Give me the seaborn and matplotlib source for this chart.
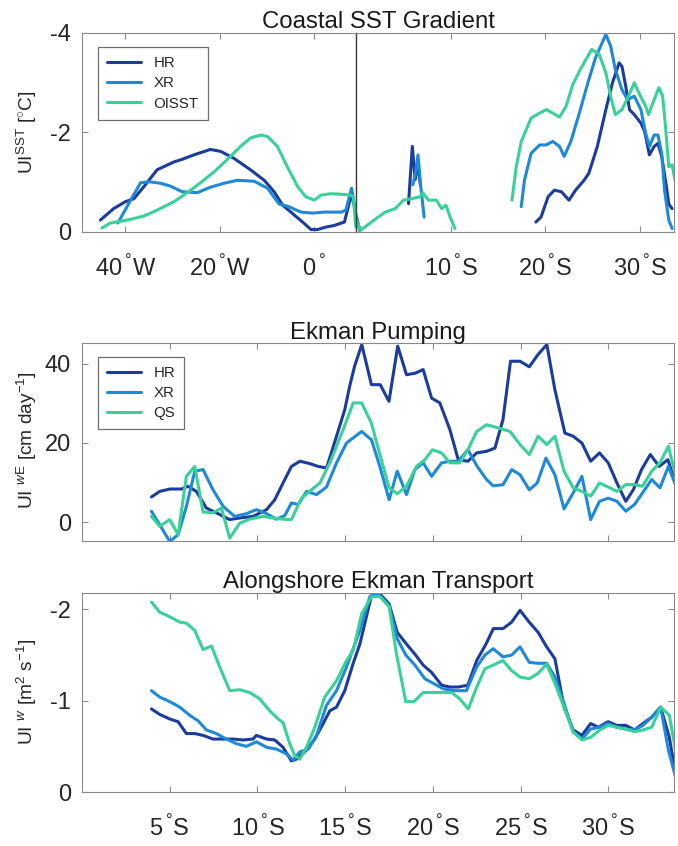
import numpy as np
import pandas as pd
import seaborn as sns
import matplotlib.pyplot as plt

# ---- colours ----
HR_COLOR = "#1b3c9e"
XR_COLOR = "#1d89d8"
GREEN = "#38d198"
BOX = "#8a8a8a"
TXT = "#262626"

# ---- Coastal SST gradient, west-east part (longitude, deg E) ----
sst_lon_hr = [-45.3, -42.5, -40.0, -38.2, -36.1, -33.3, -29.7, -28.0, -25.5, -22.0, -19.8, -17.0, -13.5,
              -10.6, -8.5, -6.7, -4.2, -2.1, -0.7, 0.7, 2.5, 4.2, 6.4, 7.9, 8.6, 9.0]
sst_hr_we = [-0.24, -0.47, -0.61, -0.67, -0.91, -1.25, -1.41, -1.46, -1.55, -1.66, -1.62, -1.48, -1.25,
             -1.04, -0.81, -0.54, -0.34, -0.17, -0.05, -0.05, -0.10, -0.13, -0.20, -0.77, -0.47, -0.25]
sst_lon_xr = [-41.6, -38.9, -36.8, -35.0, -32.6, -30.4, -28.0, -24.8, -22.0, -19.1, -16.3, -12.7, -9.9,
              -7.4, -5.7, -2.8, -0.4, 2.1, 5.7, 6.7, 7.9, 8.8]
sst_xr_we = [-0.18, -0.64, -0.99, -1.01, -0.98, -0.92, -0.81, -0.79, -0.90, -0.98, -1.04, -1.02, -0.88,
             -0.56, -0.52, -0.40, -0.38, -0.40, -0.40, -0.44, -0.88, -0.37]
sst_lon_oi = [-45.0, -43.2, -39.6, -36.1, -33.3, -29.7, -26.9, -24.1, -21.2, -18.4, -15.6, -13.5, -11.3,
              -9.9, -7.8, -5.7, -3.5, -1.8, 0.0, 1.4, 3.5, 5.7, 7.8, 8.3, 8.8]
sst_oi_we = [-0.08, -0.18, -0.24, -0.32, -0.44, -0.61, -0.79, -0.99, -1.21, -1.46, -1.72, -1.89, -1.95,
             -1.92, -1.72, -1.31, -0.91, -0.71, -0.64, -0.74, -0.77, -0.76, -0.74, -0.70, -0.10]

# ---- Coastal SST gradient, north-south part (latitude, deg S) ----
sst_lat_hr_a = [0.0, 0.4]
sst_hr_a = [-0.30, -0.03]
sst_lat_hr_b = [5.55, 5.95, 6.25, 6.5, 6.8]
sst_hr_b = [-0.57, -1.72, -1.05, -1.40, -0.95]
sst_lat_hr_c = [19.0, 19.55, 20.3, 20.96, 21.7, 22.5, 23.2, 24.1, 24.6, 25.5, 26.4, 27.1, 27.8, 28.1, 28.5,
                28.9, 29.4, 30.1, 30.5, 31.0, 31.5, 31.9, 32.3, 32.8, 33.05, 33.4]
sst_hr_c = [-0.20, -0.30, -0.71, -0.84, -0.81, -0.64, -0.84, -1.04, -1.18, -1.72, -2.46, -3.00, -3.40, -3.33,
            -2.93, -2.46, -2.36, -2.19, -2.02, -1.55, -1.72, -1.78, -1.52, -0.91, -0.56, -0.47]
sst_lat_xr_a = [0.0, 0.4]
sst_xr_a = [-0.35, -0.04]
sst_lat_xr_b = [6.0, 6.3, 6.55, 6.85, 7.2]
sst_xr_b = [-0.95, -1.20, -1.55, -0.90, -0.30]
sst_lat_xr_c = [17.46, 17.8, 18.5, 19.4, 20.1, 20.8, 21.5, 22.0, 22.7, 23.6, 24.5, 25.3, 26.4, 26.9, 27.4,
                28.1, 28.7, 29.4, 30.1, 30.6, 31.0, 31.5, 31.9, 32.3, 32.6, 33.05, 33.4]
sst_xr_c = [-0.51, -1.04, -1.58, -1.75, -1.75, -1.82, -1.72, -1.52, -1.82, -2.39, -3.00, -3.50, -3.97, -3.74,
            -3.27, -2.86, -2.66, -2.73, -2.46, -1.99, -1.72, -1.95, -1.95, -1.58, -0.84, -0.24, -0.07]
sst_lat_oi_a = [0.0, 0.45, 1.9, 3.1, 4.15, 5.0, 5.9, 6.8, 7.05, 7.65, 8.5, 9.05, 9.5, 9.95, 10.45]
sst_oi_a = [-0.25, -0.03, -0.24, -0.40, -0.47, -0.64, -0.67, -0.71, -0.79, -0.64, -0.64, -0.47, -0.54,
            -0.30, -0.07]
sst_lat_oi_b = [16.48, 16.93, 17.46, 18.5, 19.4, 20.1, 20.8, 21.5, 22.2, 22.9, 23.6, 24.3, 24.9, 25.7, 26.4,
                26.9, 27.4, 28.1, 28.8, 29.4, 29.9, 30.6, 30.9, 31.5, 32.0, 32.4, 32.7, 33.05, 33.4, 33.7]
sst_oi_b = [-0.64, -1.31, -1.82, -2.29, -2.39, -2.46, -2.39, -2.31, -2.53, -2.96, -3.23, -3.47, -3.67, -3.57,
            -3.20, -2.73, -2.36, -2.46, -2.73, -3.00, -2.79, -2.53, -2.36, -2.66, -2.90, -2.73, -2.12, -1.31,
            -1.35, -1.04]

# ---- Ekman pumping [cm/day] ----
ek_lat_hr = [3.96, 4.43, 5.0, 5.67, 6.04, 6.52, 7.09, 7.66, 8.42, 8.99, 9.75, 10.52, 10.99, 11.46, 11.94,
             12.42, 12.99, 13.46, 13.94, 14.51, 14.98, 15.27, 15.55, 15.95, 16.5, 17.0, 17.5, 18.0, 18.5, 19.0,
             19.45, 19.93, 20.4, 20.97, 21.45, 22.0, 22.5, 23.06, 23.54, 24.0, 24.43, 24.97, 25.5, 26.0, 26.5,
             26.96, 27.53, 28.0, 28.5, 29.0, 29.5, 30.0, 30.5, 31.0, 31.43, 31.9, 32.4, 32.9, 33.4, 33.9]
ek_hr = [6.4, 7.8, 8.4, 8.4, 9.1, 7.8, 3.6, 2.4, 0.7, 1.1, 1.5, 3.2, 5.7, 9.9, 14.1, 15.4, 14.8, 14.1, 13.7,
         21.7, 28.4, 34.5, 39.5, 44.8, 34.7, 34.7, 30.5, 44.4, 37.2, 37.6, 38.5, 31.3, 30.1, 23.4, 15.8, 15.4,
         17.5, 17.9, 18.7, 25.9, 40.6, 40.6, 39.2, 42.3, 44.8, 33.4, 22.5, 21.7, 20.0, 15.4, 17.5, 15.0, 9.9,
         5.3, 8.2, 13.3, 17.1, 14.1, 15.8, 9.1]
ek_lat_xr = [3.96, 4.43, 5.0, 5.48, 5.95, 6.43, 6.9, 7.47, 8.05, 8.71, 9.38, 9.95, 10.52, 11.08, 11.56, 11.94,
             12.32, 12.8, 13.37, 13.94, 14.51, 15.08, 15.94, 16.5, 16.98, 17.51, 17.97, 18.5, 18.98, 19.45,
             19.93, 20.5, 20.97, 21.45, 22.0, 22.53, 23.06, 23.44, 24.0, 24.5, 24.97, 25.5, 25.95, 26.45, 26.96,
             27.48, 28.0, 28.5, 29.0, 29.5, 30.0, 30.5, 31.0, 31.5, 31.95, 32.48, 32.95, 33.43, 33.94]
ek_xr = [2.8, -0.6, -4.8, -3.1, 4.0, 12.9, 13.3, 8.2, 4.0, 1.5, 2.2, 3.2, 2.2, 0.8, 1.7, 4.9, 4.5, 7.8, 7.0,
         8.9, 15.0, 20.0, 22.9, 20.8, 14.1, 5.7, 12.9, 7.0, 13.3, 15.0, 11.6, 15.0, 15.4, 15.4, 18.3, 14.1,
         10.8, 9.2, 9.5, 13.3, 12.0, 8.2, 9.9, 16.2, 12.0, 3.4, 7.4, 11.6, 0.7, 5.3, 6.1, 5.3, 2.8, 4.5, 7.4,
         10.8, 8.7, 14.1, 8.2]
ek_lat_qs = [3.96, 4.43, 5.0, 5.48, 5.95, 6.43, 6.9, 7.47, 7.95, 8.42, 8.99, 9.56, 10.32, 10.89, 11.46, 11.94,
             12.51, 13.08, 13.56, 14.13, 14.89, 15.46, 15.94, 16.5, 16.98, 17.51, 17.97, 18.5, 19.07, 19.55,
             19.98, 20.5, 20.97, 21.54, 22.0, 22.5, 23.06, 23.73, 24.4, 24.97, 25.5, 26.0, 26.5, 26.96, 27.48,
             28.0, 28.5, 29.0, 29.5, 30.0, 30.5, 31.0, 31.5, 31.95, 32.48, 32.95, 33.43, 33.94]
ek_qs = [1.5, -1.0, 0.7, -3.1, 11.6, 14.1, 2.6, 2.4, 3.6, -4.0, -0.2, 0.8, 1.5, 1.1, 0.8, 0.7, 6.1, 8.2, 9.9,
         15.0, 23.4, 30.1, 30.1, 25.0, 17.1, 8.7, 7.2, 9.1, 14.1, 15.8, 18.3, 17.5, 15.0, 15.0, 18.3, 22.9,
         24.6, 23.8, 22.9, 19.6, 17.1, 21.7, 19.6, 21.7, 12.9, 8.7, 7.8, 6.6, 9.9, 8.9, 7.8, 9.5, 9.5, 9.1,
         12.9, 15.0, 19.2, 9.9]

# ---- Alongshore Ekman transport [m2/s] ----
tr_lat_hr = [3.96, 4.43, 5.0, 5.48, 5.95, 6.43, 6.9, 7.47, 8.05, 8.62, 9.18, 9.75, 9.94, 10.52, 10.99, 11.46,
             11.94, 12.23, 12.8, 13.27, 13.75, 14.13, 14.51, 14.98, 15.46, 15.84, 16.5, 16.98, 17.51, 17.97,
             18.5, 18.98, 19.45, 19.93, 20.5, 20.97, 21.45, 22.0, 22.5, 23.03, 23.45, 24.0, 24.49, 24.97, 25.5,
             26.0, 26.49, 26.96, 27.48, 28.0, 28.5, 29.0, 29.43, 30.0, 30.48, 31.0, 31.5, 31.98, 32.48, 32.99,
             33.48, 33.94]
tr_hr = [-0.91, -0.85, -0.80, -0.77, -0.64, -0.64, -0.62, -0.58, -0.58, -0.58, -0.57, -0.58, -0.62, -0.58,
         -0.57, -0.49, -0.34, -0.36, -0.46, -0.58, -0.75, -0.89, -0.93, -1.11, -1.41, -1.62, -2.15, -2.17,
         -2.06, -1.75, -1.62, -1.51, -1.39, -1.31, -1.17, -1.15, -1.15, -1.17, -1.44, -1.62, -1.79, -1.79,
         -1.86, -1.99, -1.86, -1.75, -1.59, -1.46, -0.93, -0.68, -0.62, -0.75, -0.71, -0.77, -0.73, -0.73,
         -0.68, -0.75, -0.82, -0.93, -0.60, -0.09]
tr_lat_xr = [3.96, 4.43, 5.0, 5.57, 6.14, 6.62, 7.09, 7.66, 8.23, 8.8, 9.37, 9.94, 10.52, 11.08, 11.65, 12.04,
             12.42, 12.9, 13.37, 13.94, 14.51, 15.08, 15.84, 16.41, 16.89, 17.51, 17.97, 18.46, 18.98, 19.55,
             20.03, 20.6, 21.26, 21.92, 22.5, 22.97, 23.44, 24.0, 24.49, 24.97, 25.5, 26.0, 26.49, 26.96,
             27.48, 28.0, 28.5, 29.0, 29.53, 30.0, 30.48, 31.0, 31.5, 31.98, 32.48, 32.99, 33.43, 33.94]
tr_xr = [-1.11, -1.04, -0.99, -0.93, -0.84, -0.78, -0.68, -0.64, -0.58, -0.53, -0.50, -0.55, -0.49, -0.47,
         -0.42, -0.35, -0.44, -0.47, -0.62, -0.95, -1.11, -1.37, -1.77, -2.14, -2.17, -2.04, -1.68, -1.50,
         -1.39, -1.24, -1.19, -1.13, -1.11, -1.11, -1.37, -1.50, -1.57, -1.48, -1.50, -1.59, -1.42, -1.41,
         -1.41, -1.26, -0.97, -0.66, -0.58, -0.69, -0.71, -0.75, -0.71, -0.69, -0.68, -0.73, -0.82, -0.93,
         -0.46, -0.09]
tr_lat_qs = [3.96, 4.43, 5.0, 5.57, 5.95, 6.43, 6.9, 7.38, 7.85, 8.42, 8.99, 9.56, 10.13, 10.7, 11.18, 11.46,
             11.84, 12.13, 12.42, 12.8, 13.27, 13.84, 14.51, 15.08, 15.46, 15.94, 16.5, 16.98, 17.51, 17.93,
             18.46, 18.92, 19.45, 20.4, 21.07, 21.54, 22.02, 22.5, 22.97, 23.44, 24.0, 24.49, 24.97, 25.5,
             26.0, 26.49, 26.96, 27.48, 28.0, 28.5, 29.0, 29.53, 30.0, 30.48, 31.0, 31.5, 31.98, 32.48, 32.99,
             33.48, 33.94]
tr_qs = [-2.08, -1.97, -1.92, -1.86, -1.85, -1.77, -1.56, -1.60, -1.37, -1.11, -1.12, -1.09, -1.02, -0.89,
         -0.80, -0.76, -0.53, -0.40, -0.36, -0.49, -0.71, -1.04, -1.22, -1.44, -1.55, -1.95, -2.14, -2.14,
         -2.03, -1.51, -0.99, -0.99, -1.09, -1.09, -1.09, -1.02, -0.91, -1.15, -1.35, -1.39, -1.44, -1.33,
         -1.26, -1.24, -1.30, -1.40, -1.19, -0.93, -0.66, -0.57, -0.60, -0.68, -0.73, -0.71, -0.69, -0.66,
         -0.68, -0.71, -0.93, -0.84, -0.35]

# ---- ticks (degree sign raised like the MATLAB labels) ----
DEG = r"$\,{}^{°}$"
lon_ticks = [-40, -20, 0]
lon_labels = ["40" + DEG + "W", "20" + DEG + "W", "0" + DEG]
top_lat_ticks = [10, 20, 30]
top_lat_labels = ["%d" % t + DEG + "S" for t in top_lat_ticks]
lat_ticks = [5, 10, 15, 20, 25, 30]
lat_labels = ["%d" % t + DEG + "S" for t in lat_ticks]

sns.set_style("white")
plt.rcParams["font.family"] = ["Liberation Sans", "DejaVu Sans"]
plt.rcParams["mathtext.fontset"] = "custom"
plt.rcParams["mathtext.rm"] = "Liberation Sans"
plt.rcParams["mathtext.it"] = "Liberation Sans:italic"
plt.rcParams["axes.unicode_minus"] = False

LW = 2.2


def line(ax, x, y, color, label=None):
    sns.lineplot(x=x, y=y, ax=ax, color=color, linewidth=LW, label=label,
                 estimator=None, sort=False)


def style(ax, left=True, right=True):
    for sp in ax.spines.values():
        sp.set_visible(True)
        sp.set_color(BOX)
        sp.set_linewidth(0.8)
    ax.tick_params(axis="both", direction="in", length=4, width=0.8, color=BOX,
                   labelsize=17, labelcolor=TXT, top=True, bottom=True)
    ax.tick_params(axis="y", left=left, right=right, labelleft=left, pad=8)
    ax.tick_params(axis="x", pad=17)
    ax.set_xlabel("")
    ax.set_ylabel("")


W, H = 678, 846
fig = plt.figure(figsize=(W / 100, H / 100), dpi=100)

def rect(x0, x1, ytop, ybot):
    return [x0 / W, 1 - ybot / H, (x1 - x0) / W, (ybot - ytop) / H]

ax_l = fig.add_axes(rect(82, 356, 33, 232))
ax_r = fig.add_axes(rect(356, 674, 33, 232))
ax_m = fig.add_axes(rect(82, 674, 343, 541))
ax_b = fig.add_axes(rect(82, 674, 593, 792))

# top left: longitude
line(ax_l, sst_lon_hr, sst_hr_we, HR_COLOR, "HR")
line(ax_l, sst_lon_xr, sst_xr_we, XR_COLOR, "XR")
line(ax_l, sst_lon_oi, sst_oi_we, GREEN, "OISST")
ax_l.set_xlim(-49.2, 8.85)
ax_l.set_ylim(0, -4)
ax_l.set_yticks([-4, -2, 0])
ax_l.set_yticklabels(["-4", "-2", "0"])
ax_l.set_xticks(lon_ticks)
ax_l.set_xticklabels(lon_labels)
style(ax_l, left=True, right=False)

# top right: latitude
for x, y, c in [(sst_lat_hr_a, sst_hr_a, HR_COLOR), (sst_lat_hr_b, sst_hr_b, HR_COLOR),
                (sst_lat_xr_a, sst_xr_a, XR_COLOR), (sst_lat_xr_b, sst_xr_b, XR_COLOR),
                (sst_lat_oi_a, sst_oi_a, GREEN), (sst_lat_hr_c, sst_hr_c, HR_COLOR),
                (sst_lat_xr_c, sst_xr_c, XR_COLOR), (sst_lat_oi_b, sst_oi_b, GREEN)]:
    line(ax_r, x, y, c)
ax_r.set_xlim(0, 33.6)
ax_r.set_ylim(0, -4)
ax_r.set_yticks([-4, -2, 0])
ax_r.set_xticks(top_lat_ticks)
ax_r.set_xticklabels(top_lat_labels)
style(ax_r, left=False, right=True)
ax_r.tick_params(axis="y", labelright=False)
ax_l.spines["right"].set_color("#3a3a3a")
ax_r.spines["left"].set_color("#3a3a3a")
ax_r.spines["left"].set_linewidth(1.0)

# middle: Ekman pumping
line(ax_m, ek_lat_hr, ek_hr, HR_COLOR, "HR")
line(ax_m, ek_lat_xr, ek_xr, XR_COLOR, "XR")
line(ax_m, ek_lat_qs, ek_qs, GREEN, "QS")
ax_m.set_xlim(0, 33.75)
ax_m.set_ylim(-4.7, 45.2)
ax_m.set_yticks([0, 20, 40])
ax_m.set_xticks(lat_ticks)
style(ax_m)
ax_m.tick_params(axis="x", labelbottom=False)

# bottom: alongshore transport
line(ax_b, tr_lat_hr, tr_hr, HR_COLOR)
line(ax_b, tr_lat_xr, tr_xr, XR_COLOR)
line(ax_b, tr_lat_qs, tr_qs, GREEN)
ax_b.set_xlim(0, 33.75)
ax_b.set_ylim(0, -2.18)
ax_b.set_yticks([-2, -1, 0])
ax_b.set_yticklabels(["-2", "-1", "0"])
ax_b.set_xticks(lat_ticks)
ax_b.set_xticklabels(lat_labels)
style(ax_b)

leg_kw = dict(loc="upper left", fontsize=10.8, frameon=True, fancybox=False, framealpha=1,
              edgecolor="#6e6e6e", handlelength=2.3, handletextpad=0.8, labelspacing=0.42,
              borderpad=0.6, borderaxespad=0)
ax_l.legend(bbox_to_anchor=(0.058, 0.93), **leg_kw).get_frame().set_linewidth(0.9)
ax_m.legend(bbox_to_anchor=(0.027, 0.93), **leg_kw).get_frame().set_linewidth(0.9)
for ax in (ax_r, ax_b):
    if ax.get_legend() is not None:
        ax.get_legend().remove()

# titles and y labels
cx = (82 + 674) / 2 / W
for ybase, title in [(28, "Coastal SST Gradient"), (339, "Ekman Pumping"), (588, "Alongshore Ekman Transport")]:
    fig.text(cx, 1 - ybase / H, title, ha="center", va="baseline", fontsize=17.3, color="#1a1a1a")

for ymid, lab in [(132, r"UI$^{\rm SST}$ [$^{\circ}$C]"), (440, r"UI $^{w\rm E}$ [cm day$^{-1}$]"),
                  (692, r"UI $^{w}$ [m$^{2}$ s$^{-1}$]")]:
    fig.text(27 / W, 1 - ymid / H, lab, rotation=90, ha="center", va="center", fontsize=13.8, color=TXT)

fig.savefig("out.png", dpi=100)
